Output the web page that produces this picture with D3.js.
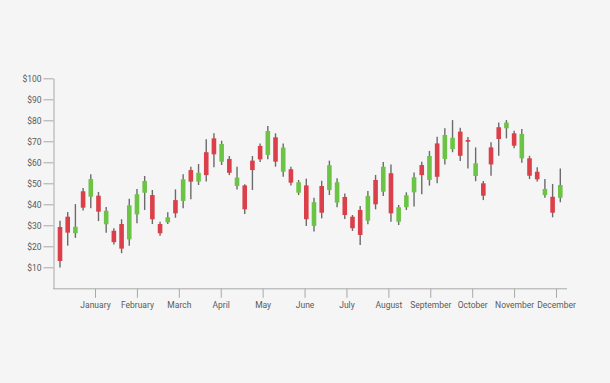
<!DOCTYPE html>
<html>
<head>
	<meta charset="utf-8">
	<title>candles</title>
	<style>
		html, body { margin: 0; padding: 0; background: #f5f5f5; }
		svg { display: block; font-family: Roboto, "Noto Sans", sans-serif; }
	</style>
</head>
<body>
	<div class="chart"></div>
	<script src="https://cdnjs.cloudflare.com/ajax/libs/d3/7.8.5/d3.min.js" charset="utf-8"></script>

	<script type="text/javascript">
		var width  = 610;
		var height = 383;

		// values
		var months = ["January", "February", "March", "April", "May", "June",
		              "July", "August", "September", "October", "November", "December"];
		var yTicks = [10, 20, 30, 40, 50, 60, 70, 80, 90, 100];

		var open  = [29.2, 34.1, 26.2, 46.2, 43.6, 44.1, 30.5, 27.4, 30.6, 23.3, 35.2, 45.5, 44.4, 30.6, 31.4, 42.0,
		             41.6, 56.3, 50.8, 64.8, 71.4, 60.3, 61.6, 48.7, 49.0, 60.8, 67.8, 63.5, 71.9, 55.5, 56.7, 45.5,
		             49.0, 29.7, 48.7, 46.8, 40.8, 43.5, 34.1, 37.3, 32.2, 51.6, 46.0, 54.8, 31.7, 38.6, 45.7, 58.7,
		             51.6, 69.0, 61.6, 66.3, 74.6, 70.6, 53.5, 50.0, 67.1, 76.7, 76.2, 73.8, 61.9, 61.9, 55.5, 44.4,
		             43.6, 43.1];
		var close = [13.0, 26.5, 29.3, 38.4, 52.0, 36.5, 36.9, 22.0, 18.9, 39.5, 44.8, 51.1, 32.9, 26.2, 33.8, 35.7,
		             51.9, 50.8, 55.0, 53.9, 63.8, 68.7, 55.0, 52.7, 37.6, 56.3, 61.4, 74.9, 60.3, 67.0, 50.3, 50.5,
		             32.9, 41.0, 36.0, 58.6, 50.5, 34.9, 28.6, 25.4, 44.0, 40.0, 57.9, 35.7, 38.6, 44.3, 52.9, 53.9,
		             63.0, 53.1, 73.0, 71.7, 63.1, 69.8, 59.5, 44.1, 59.0, 71.1, 78.9, 67.9, 73.5, 53.6, 51.9, 47.3,
		             36.0, 49.2];
		var high  = [32.2, 36.3, 40.1, 47.8, 54.3, 45.9, 38.7, 28.6, 32.9, 42.7, 47.3, 53.5, 46.8, 31.7, 36.2, 47.1,
		             54.3, 57.9, 59.2, 71.0, 73.8, 70.3, 63.0, 57.9, 49.5, 63.0, 69.0, 77.3, 73.8, 69.0, 57.9, 51.6,
		             52.2, 43.1, 51.2, 60.8, 52.4, 45.2, 34.9, 39.2, 46.3, 54.0, 60.1, 59.0, 39.7, 45.7, 55.2, 60.3,
		             65.4, 72.2, 76.2, 80.1, 76.5, 72.0, 67.1, 51.1, 69.5, 79.0, 80.1, 75.0, 75.9, 63.1, 57.6, 52.0,
		             49.7, 57.1];
		var low   = [9.9, 20.3, 24.0, 37.0, 38.1, 32.0, 26.5, 20.8, 16.7, 20.3, 31.0, 37.3, 30.6, 25.0, 30.6, 33.6,
		             38.1, 42.4, 49.2, 50.8, 57.6, 58.7, 53.9, 47.1, 35.4, 46.8, 60.1, 61.4, 57.9, 53.1, 49.0, 44.4,
		             29.7, 27.0, 33.3, 44.4, 38.6, 33.0, 27.3, 20.6, 30.5, 37.6, 44.0, 31.7, 30.1, 37.3, 38.9, 44.8,
		             48.9, 50.0, 59.0, 64.8, 60.6, 57.0, 51.0, 42.0, 53.6, 63.1, 71.4, 66.7, 59.8, 52.0, 50.8, 43.1,
		             33.8, 41.0];

		var candles = open.map(function(o, i) {
			return { i: i, open: o, close: close[i], high: high[i], low: low[i] };
		});

		var svg = d3.select('.chart').append("svg").attr("width", width).attr("height", height);

		var x = d3.scaleLinear().domain([0, candles.length - 1]).range([60, 560.3]);
		var y = d3.scaleLinear().domain([0, 100]).range([288.3, 78.3]);
		var xm = d3.scalePoint().domain(months).range([95, 556]);

		// y axis
		var yAxis = svg.append("g")
			.attr("transform", "translate(53.5,0)")
			.call(d3.axisLeft(y).tickValues(yTicks).tickFormat(function(d) { return "$" + d; })
				.tickSize(10).tickSizeOuter(0).tickPadding(2));

		// x axis (line drawn on its own, it runs past the month ticks)
		svg.append("line")
			.attr("x1", 53).attr("x2", 567)
			.attr("y1", y(0) + 0.5).attr("y2", y(0) + 0.5)
			.attr("stroke", "#a8a8a8")
			.attr("stroke-width", 1);
		var xAxis = svg.append("g")
			.attr("transform", "translate(0," + (y(0) + 0.5) + ")")
			.call(d3.axisBottom(xm).tickSize(9).tickSizeOuter(0).tickPadding(4));
		xAxis.select(".domain").remove();

		svg.selectAll(".tick line").attr("stroke", "#a8a8a8");
		yAxis.select(".domain").attr("stroke", "#a8a8a8");
		svg.selectAll(".tick text")
			.attr("fill", "#5a5a5a")
			.style("font-size", "8.5px")
			.style("font-family", "Roboto, sans-serif");

		var g = svg.append("g");

		// wicks
		g.selectAll(".wick").data(candles).enter().append("line")
			.attr("class", "wick")
			.attr("x1", function(d) { return x(d.i); })
			.attr("x2", function(d) { return x(d.i); })
			.attr("y1", function(d) { return y(d.high); })
			.attr("y2", function(d) { return y(d.low); })
			.attr("stroke", "#6b6b6b")
			.attr("stroke-width", 1.4);

		// bodies
		g.selectAll(".body").data(candles).enter().append("rect")
			.attr("class", "body")
			.attr("x", function(d) { return x(d.i) - 2.3; })
			.attr("width", 4.6)
			.attr("y", function(d) { return y(Math.max(d.open, d.close)); })
			.attr("height", function(d) { return Math.max(1.5, Math.abs(y(d.open) - y(d.close))); })
			.attr("fill", function(d) { return d.close >= d.open ? "#6cc447" : "#db3f49"; });
	</script>
</body>
</html>
